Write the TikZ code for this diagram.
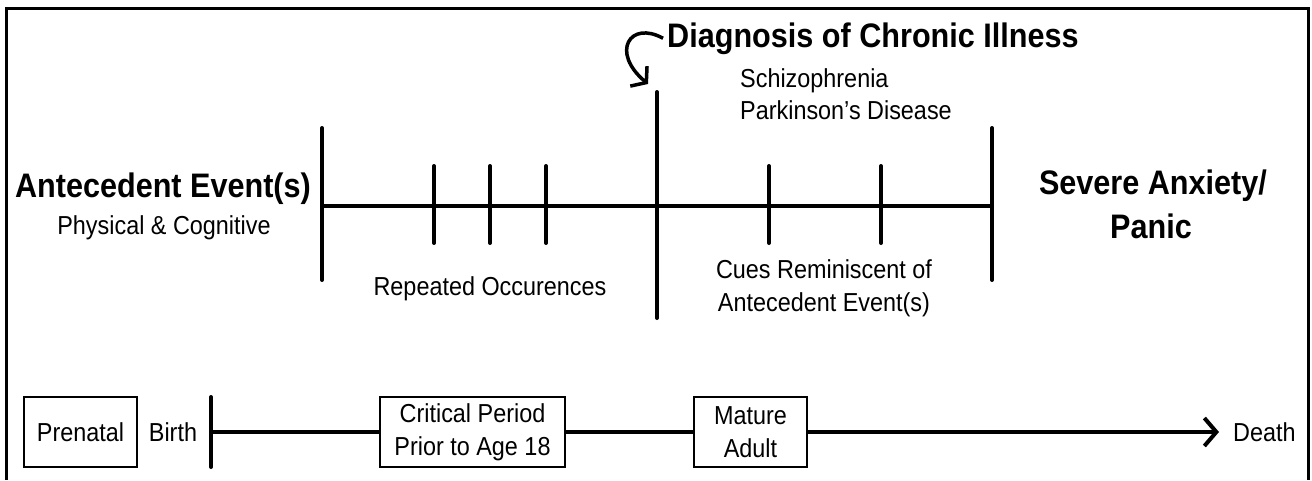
\documentclass[tikz,border=0pt]{standalone}
\usepackage{fontspec}
\setmainfont{Liberation Sans}[FakeStretch=0.9]
\usetikzlibrary{arrows.meta}
\tikzset{
  txt/.style={font=\fontsize{26}{32}\selectfont, inner sep=0pt},
  head/.style={font=\bfseries\fontsize{34}{40}\selectfont, inner sep=0pt},
  axis/.style={line width=4pt, line cap=round},
  period/.style={draw, line width=2pt, minimum height=70pt, align=center,
    inner sep=0pt, font=\fontsize{26}{33}\selectfont},
}
\begin{document}
\begin{tikzpicture}[x=1pt, y=-1pt]
    \useasboundingbox (0,0) rectangle (1312,480);
    \draw [line width=3pt] (6,480) -- (6,8) -- (1308,8) -- (1308,480);
    % upper time line
    \coordinate (start) at (322,206);
    \coordinate (onset) at (992,206);
    \draw [axis] (start) -- (onset);
    \draw [axis] (322,128) -- (322,280);
    \draw [axis] (992,128) -- (992,280);
    \draw [axis] (657,92) -- (657,318);
    \foreach \x in {434,490,546,769,881}
      \draw [axis] (\x,166) -- (\x,243);
    \node [head, anchor=base] (ante) at (163,197) {Antecedent Event(s)};
    \node [txt, anchor=base] (phys) at (164,234) {Physical \& Cognitive};
    \node [txt, anchor=base] (rep) at (490,295) {Repeated Occurences};
    \node [txt, anchor=base] (cues) at (824,278) {Cues Reminiscent of};
    \node [txt, anchor=base] (cuesb) at (824,311) {Antecedent Event(s)};
    \node [head, anchor=base] (severe) at (1153,194) {Severe Anxiety/};
    \node [head, anchor=base] (panic) at (1151,238) {Panic};
    \node [head, anchor=base west] (diag) at (667,47) {Diagnosis of Chronic Illness};
    \node [txt, anchor=base west] (schiz) at (740,87) {Schizophrenia};
    \node [txt, anchor=base west] (park) at (740,119) {Parkinson’s Disease};
    \coordinate (hook) at (648,84);
    \draw [line width=3.5pt, -{Straight Barb[length=10pt, width=26pt]}]
      ([xshift=-4pt]diag.west) .. controls (630,20) and (610,52) .. (hook);
    % lower time line
    \node [period, minimum width=113pt] (prenatal) at (80.5,432) {Prenatal};
    \node [txt] (birth) at (173,432) {Birth};
    \draw [axis] (211,397) -- (211,467);
    \coordinate (birthmark) at (211,432);
    \node [period, minimum width=185pt] (critical) at (472.5,432) {Critical Period\\Prior to Age 18};
    \node [period, minimum width=113pt] (mature) at (750.5,432) {Mature\\Adult};
    \node [txt, anchor=west] (death) at (1233,432) {Death};
    \coordinate (end) at (1219,432);
    \draw [line width=4pt] (birthmark) -- (critical.west);
    \draw [line width=4pt] (critical.east) -- (mature.west);
    \draw [line width=4pt, -{Straight Barb[length=12pt, width=28pt]}] (mature.east) -- (end);
\end{tikzpicture}
\end{document}
